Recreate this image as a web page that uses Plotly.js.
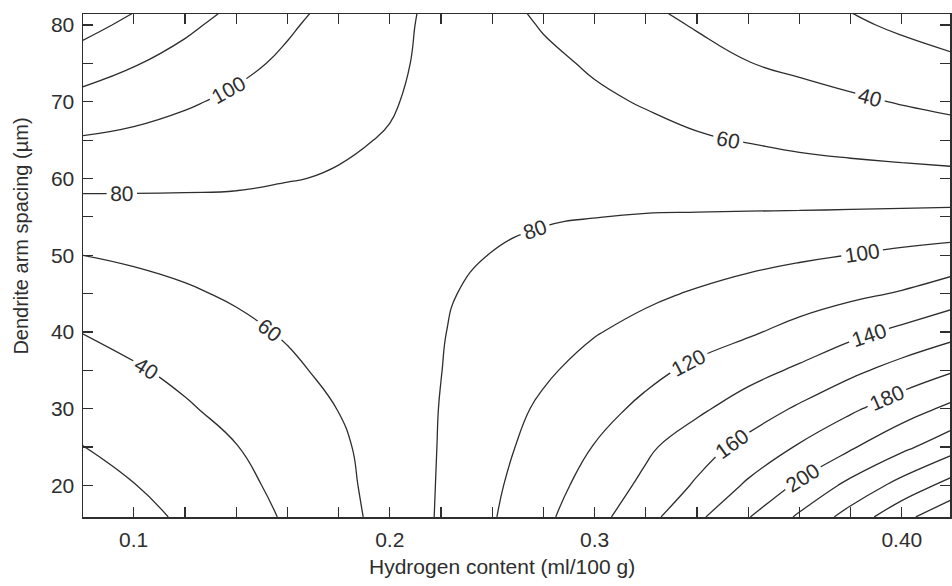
<!DOCTYPE html>
<html>
<head>
<meta charset="utf-8">
<script src="https://cdn.plot.ly/plotly-3.0.1.min.js"></script>
<style>
  html, body { margin: 0; padding: 0; background: #ffffff; }
  #chart { width: 952px; height: 586px; }
</style>
</head>
<body>
<div id="chart"></div>
<script>
// Hydrogen content (ml/100 g) grid columns
const hydrogen = [0.08, 0.10, 0.12, 0.14, 0.16, 0.18, 0.20, 0.22, 0.24, 0.26, 0.28, 0.30, 0.32, 0.34, 0.36, 0.38, 0.40, 0.42];
// Dendrite arm spacing (um) grid rows
const spacing = [15.9, 20, 25, 30, 35, 40, 45, 50, 55, 60, 65, 70, 75, 80, 82];

const z_s16 = [6, 14, 22.9, 32.2, 41.9, 53.6, 66.9, 82.0, 98.4, 115.7, 133.5, 153.2, 176, 199, 223, 248, 274, 296];
const z_s20 = [13, 19.5, 27.4, 35.4, 44.6, 55.3, 67.7, 81.5, 96.6, 111.8, 127.7, 144.4, 162.6, 183.1, 203.5, 225.5, 247, 268];
const z_s25 = [19.7, 26.2, 32.9, 39.5, 48.2, 57.0, 68.4, 81.0, 94.1, 107.3, 120.8, 136.5, 151.3, 166.3, 182, 197.7, 215.5, 233];
const z_s30 = [26.6, 32.4, 38.2, 45.1, 52.7, 60.3, 70.4, 80.5, 91.8, 102.9, 113.3, 124.3, 136.4, 149.3, 162.8, 176.8, 190.5, 205];
const z_s35 = [33.4, 38.2, 44.0, 50.5, 57.0, 64.2, 72.0, 79.8, 88.6, 97.4, 106.2, 115.0, 124.0, 133.1, 143.1, 155.6, 167.4, 178.5];
const z_s40 = [40.3, 45.6, 50.9, 56.1, 61.6, 67.5, 73.4, 79.3, 85.8, 92.4, 99.0, 105.2, 111.5, 117.7, 125.8, 135.0, 144.4, 154];
const z_s45 = [50.2, 54.1, 58.0, 62.1, 66.2, 70.3, 74.4, 78.6, 83.0, 87.6, 92.2, 96.8, 101.5, 106.3, 111.1, 116.0, 121.5, 130.5];
const z_s50 = [60, 62.5, 65.0, 67.5, 70.1, 72.6, 75.1, 78.0, 80.2, 82.9, 85.8, 88.7, 91.6, 94.5, 97.4, 100.2, 104.1, 107.8];
const z_s55 = [72.3, 73.3, 74.3, 74.9, 75.3, 75.8, 76.6, 77.4, 78.2, 79.0, 79.8, 80.7, 81.2, 81.7, 82.3, 83.1, 84.0, 85.0];
const z_s60 = [85, 84.3, 83.3, 82.4, 80.5, 79.2, 78.0, 76.8, 75.6, 74.6, 73.8, 73.0, 71.4, 70.2, 68.5, 67.0, 66.0, 65.0];
const z_s65 = [98.2, 95.7, 92.7, 89.9, 85.9, 81.5, 79.3, 76.2, 73.2, 71.0, 68.9, 65.3, 61.6, 59.1, 56.0, 53.7, 51.5, 49.0];
const z_s70 = [113.7, 107.9, 102.1, 96.6, 91.4, 86.2, 80.9, 76.3, 71.9, 67.4, 63.0, 58.7, 54.7, 50.7, 46.8, 42.8, 38.9, 35.0];
const z_s75 = [130, 121.3, 112.9, 104.6, 96.8, 89.7, 82.6, 76.1, 70.0, 63.8, 57.8, 52.0, 46.2, 40.4, 36.1, 31.8, 27.5, 23.3];
const z_s80 = [146.8, 135.0, 123.9, 113.0, 102.3, 93.1, 84.3, 75.6, 67.1, 58.8, 52.0, 45.1, 38.7, 33.3, 28.0, 22.7, 17.2, 11.6];
const z_s82 = [153.5, 141.2, 129.1, 117.1, 105.3, 94.8, 85.3, 75.6, 65.5, 56.7, 49.3, 41.9, 35.9, 30.4, 24.9, 19.4, 13.0, 6.7];

// Tick positions and labels as printed on the figure
const xTickVals = [0.10, 0.12, 0.14, 0.16, 0.18, 0.20, 0.22, 0.24, 0.26, 0.28, 0.30, 0.32, 0.34, 0.36, 0.38, 0.40];
const xTickText = ['0.1', '', '', '', '', '0.2', '', '', '', '0.3', '', '', '', '', '', '0.40'];
const yTickVals = [20, 25, 30, 35, 40, 45, 50, 55, 60, 65, 70, 75, 80];
const yTickText = ['20', '', '30', '', '40', '', '50', '', '60', '', '70', '', '80'];

const xTitle = 'Hydrogen content (ml/100 g)';
const yTitle = 'Dendrite arm spacing (\u00b5m)';

const zRows = [z_s16, z_s20, z_s25, z_s30, z_s35, z_s40, z_s45, z_s50, z_s55, z_s60, z_s65, z_s70, z_s75, z_s80, z_s82];

const ink = '#2e2e2e';
const fontFam = '"Liberation Sans", Arial, Helvetica, sans-serif';

const trace = {
  type: 'contour',
  x: hydrogen,
  y: spacing,
  z: zRows,
  contours: {
    start: 20, end: 280, size: 20,
    coloring: 'lines',
    showlabels: true,
    labelfont: { family: fontFam, size: 21, color: ink }
  },
  colorscale: [[0, ink], [1, ink]],
  showscale: false,
  line: { width: 1.3, smoothing: 1.3 },
  hoverinfo: 'skip'
};

const axisCommon = {
  ticks: 'inside',
  ticklen: 10,
  tickwidth: 1.2,
  tickcolor: ink,
  showline: true,
  linecolor: ink,
  linewidth: 1.5,
  mirror: 'ticks',
  showgrid: false,
  zeroline: false,
  tickfont: { family: fontFam, size: 21, color: ink }
};

const layout = {
  width: 952,
  height: 586,
  margin: { l: 83, r: 2, t: 14, b: 69 },
  paper_bgcolor: '#ffffff',
  plot_bgcolor: '#ffffff',
  showlegend: false,
  xaxis: Object.assign({}, axisCommon, {
    range: [0.0802, 0.4188],
    tickmode: 'array',
    tickvals: xTickVals,
    ticktext: xTickText,
    ticklabelstandoff: 3
  }),
  yaxis: Object.assign({}, axisCommon, {
    range: [15.89, 81.43],
    tickmode: 'array',
    tickvals: yTickVals,
    ticktext: yTickText,
    ticklabelstandoff: 3
  }),
  annotations: [
    { text: xTitle, xref: 'paper', yref: 'paper', x: 0.4833, y: -0.099, xanchor: 'center', yanchor: 'middle',
      showarrow: false, font: { family: fontFam, size: 21, color: ink } },
    { text: yTitle, xref: 'paper', yref: 'paper', x: -0.072, y: 0.5586, xanchor: 'center', yanchor: 'middle',
      textangle: -90, showarrow: false, font: { family: fontFam, size: 20, color: ink } }
  ]
};

Plotly.newPlot('chart', [trace], layout, { staticPlot: true, displayModeBar: false });
</script>
</body>
</html>
